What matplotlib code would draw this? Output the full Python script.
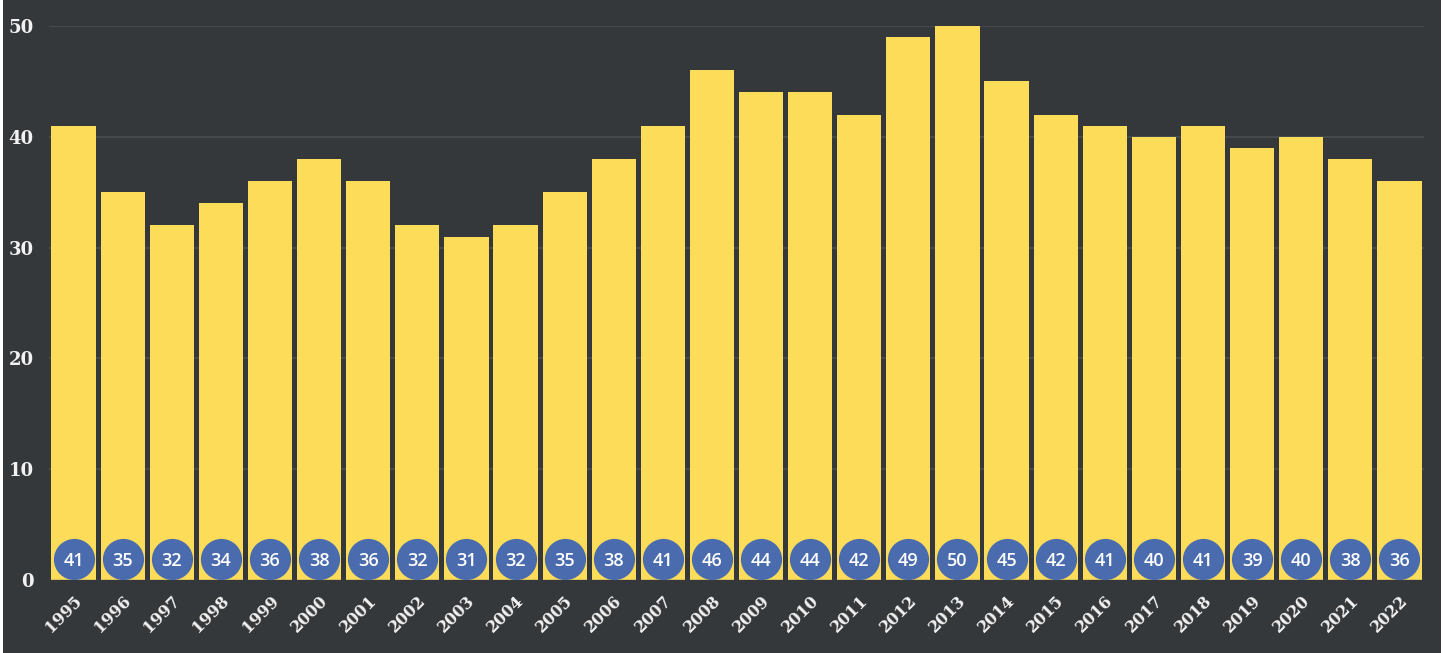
import matplotlib
matplotlib.use("Agg")
import matplotlib.pyplot as plt
import matplotlib.patches as mpatches
from matplotlib.transforms import ScaledTranslation

years = [str(y) for y in range(1995, 2023)]
values = [41, 35, 32, 34, 36, 38, 36, 32, 31, 32, 35, 38, 41, 46, 44, 44, 42,
          49, 50, 45, 42, 41, 40, 41, 39, 40, 38, 36]
yticks = [0, 10, 20, 30, 40, 50]

BG = "#35383b"
BAR = "#fddc5a"
BADGE = "#4a6cae"

fig = plt.figure(figsize=(14.56, 6.53), dpi=100)
fig.patch.set_facecolor("white")
fig.patches.append(mpatches.Rectangle((3/1456, 0), (1441-3)/1456, 1,
                                      transform=fig.transFigure,
                                      facecolor=BG, edgecolor="none", zorder=-10))
ax = fig.add_axes([49/1456, 1-580/653, (1424-49)/1456, (580-26)/653])
ax.set_facecolor(BG)
ax.patch.set_alpha(0)

x = list(range(len(years)))
ax.bar(x, values, width=0.9, color=BAR, edgecolor="none", zorder=3)
ax.set_xlim(-0.5, len(years) - 0.5)
ax.set_ylim(0, 50)

for v in yticks[1:]:
    ax.axhline(v, color="#46494c", linewidth=1.6, zorder=1)
ax.axhline(0, color="#55585a", linewidth=1.0, zorder=4)

ax.scatter(x, [1.9]*len(x), s=880, color=BADGE, zorder=4, linewidths=0)
for xi, v in zip(x, values):
    ax.text(xi, 1.9, str(v), color="white", ha="center", va="center_baseline",
            fontsize=13, fontfamily="Open Sans", fontweight="semibold", zorder=5)

ax.set_yticks(yticks)
ax.set_yticklabels([str(t) for t in yticks], fontfamily="DejaVu Serif",
                   fontweight="heavy", fontsize=13, color="#f2f2f2")
ax.set_xticks(x)
ax.set_xticklabels(years, rotation=45, ha="right", rotation_mode="anchor",
                   fontfamily="DejaVu Serif", fontweight="heavy", fontsize=11.5,
                   color="#f2f2f2")
off = ScaledTranslation(8/100, 0, fig.dpi_scale_trans)
for lbl in ax.get_xticklabels():
    lbl.set_transform(lbl.get_transform() + off)
ax.tick_params(axis="both", length=0)
ax.tick_params(axis="y", pad=11)
ax.tick_params(axis="x", pad=9)
for s in ax.spines.values():
    s.set_visible(False)

fig.savefig("out.png", dpi=100, facecolor=fig.get_facecolor())
